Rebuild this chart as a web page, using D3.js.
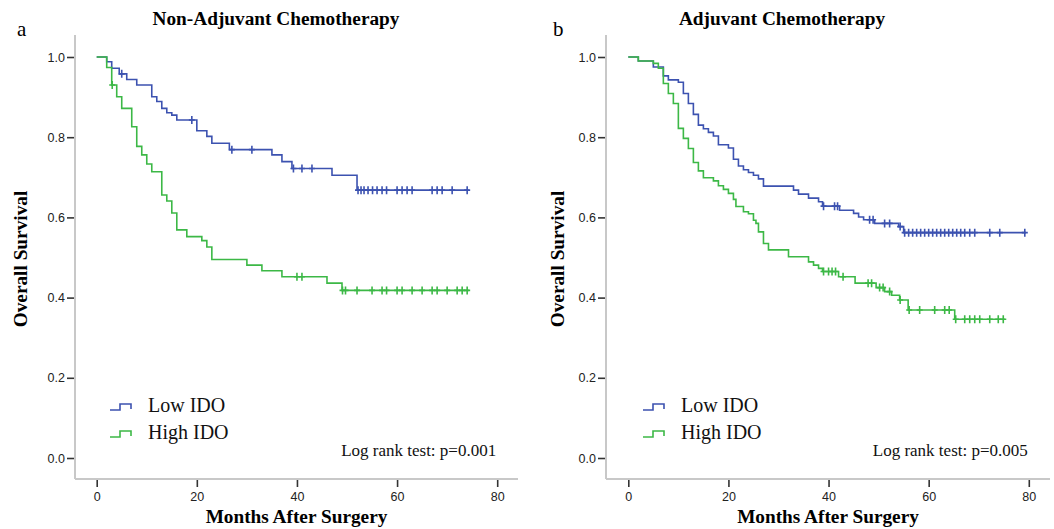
<!DOCTYPE html>
<html>
<head>
<meta charset="utf-8">
<script src="https://cdn.jsdelivr.net/npm/d3@7"></script>
<style>
  html, body { margin: 0; padding: 0; background: #fff; }
  svg { display: block; }
</style>
</head>
<body>
<svg id="chart" width="1054" height="529"></svg>
<script>
// ---------------- DATA ----------------
const panelTitles = ["Non-Adjuvant Chemotherapy", "Adjuvant Chemotherapy"];
const panelLetters = ["a", "b"];
const pValues = ["Log rank test: p=0.001", "Log rank test: p=0.005"];
const groupNames = ["Low IDO", "High IDO"];
const xTicks = [0, 20, 40, 60, 80];
const yTicks = [0.0, 0.2, 0.4, 0.6, 0.8, 1.0];
const xTitle = "Months After Surgery";
const yTitle = "Overall Survival";

// Panel a: Non-Adjuvant — Low IDO (steps: [month, survival])
const aLowSteps = [[0,1.0],[2,0.988],[3,0.972],[4.5,0.958],[6,0.944],[8,0.930],[11,0.901],[12,0.889],[13,0.872],[14,0.861],[15,0.855],[16,0.843],[20,0.816],[22,0.802],[23,0.785],[26.5,0.769],[35,0.756],[37,0.739],[39,0.722],[47,0.705],[52,0.668]];
const aLowCensor = [5,19,27,31,39.3,41,43,52.2,52.8,53.4,54.2,55.1,56,57,57.9,60,61,62,63,67,68,69,71,74];
const aLowEnd = 74.3;

// Panel a: Non-Adjuvant — High IDO
const aHighSteps = [[0,1.0],[2,0.974],[3,0.930],[4,0.901],[5,0.872],[7,0.826],[8,0.777],[9,0.756],[10,0.733],[11,0.714],[13,0.656],[14,0.641],[15,0.611],[16,0.569],[18,0.552],[21,0.542],[22,0.526],[23,0.495],[30,0.481],[33,0.467],[37,0.452],[46,0.436],[49,0.418]];
const aHighCensor = [3.1,40,41,49.1,49.7,52,55,57,57.9,60,61,63,65,67,68,70,72,73,74];
const aHighEnd = 74.3;

// Panel b: Adjuvant — Low IDO
const bLowSteps = [[0,1.0],[2,0.99],[5,0.975],[7,0.953],[8,0.943],[10,0.937],[11,0.909],[12,0.884],[13,0.857],[14,0.830],[15,0.821],[16,0.812],[17,0.803],[18,0.781],[20,0.773],[21,0.745],[22,0.728],[23,0.719],[24,0.712],[25,0.705],[26,0.696],[27,0.678],[33,0.668],[34,0.658],[36,0.648],[38,0.639],[38.8,0.628],[42.2,0.618],[45,0.610],[46,0.601],[47,0.594],[49.2,0.585],[54,0.577],[55,0.562]];
const bLowCensor = [39,41.2,41.8,48.2,48.9,51.2,52.2,54.3,55.2,56,56.8,57.6,58.4,59.2,60,60.8,61.6,62.4,63.2,64,64.8,65.6,66.4,67.2,68.2,69.2,72.2,74.2,79.2];
const bLowEnd = 79.4;

// Panel b: Adjuvant — High IDO
const bHighSteps = [[0,1.0],[2,0.99],[5,0.984],[6,0.972],[7,0.934],[8,0.909],[9,0.884],[10,0.822],[11,0.797],[12,0.772],[13,0.737],[14,0.716],[15,0.699],[17,0.691],[18,0.679],[19,0.670],[20,0.660],[21,0.645],[21.5,0.627],[23,0.614],[24,0.609],[25,0.593],[25.5,0.585],[26,0.564],[27,0.535],[28,0.519],[32,0.502],[36,0.489],[37,0.481],[38,0.473],[38.8,0.465],[42,0.452],[45.3,0.436],[49.5,0.425],[51.2,0.415],[52.6,0.406],[54.2,0.394],[55.9,0.369],[65.2,0.346]];
const bHighCensor = [39,40,40.7,41.4,42.9,47.9,48.6,50.2,50.9,52.2,54.3,56.1,58.2,61.2,63.2,64.1,65.4,67.2,68.2,69.2,70.2,72.2,73.9,74.9];
const bHighEnd = 75.2;

// ---------------- STYLE / LAYOUT ----------------
const colors = ["#3c52b0", "#3cb846"];
const serif = "'Liberation Serif','Times New Roman',serif";
const sans = "'Liberation Sans',Arial,sans-serif";

const panels = [
  { x0: 96.7, axisX: 75, right: 518, legendX: 110, yTitleX: 27, titleX: 276, letterX: 17,
    series: [
      { steps: aLowSteps, censor: aLowCensor, end: aLowEnd },
      { steps: aHighSteps, censor: aHighCensor, end: aHighEnd } ] },
  { x0: 628.3, axisX: 606, right: 1050, legendX: 643, yTitleX: 564, titleX: 782, letterX: 553,
    series: [
      { steps: bLowSteps, censor: bLowCensor, end: bLowEnd },
      { steps: bHighSteps, censor: bHighCensor, end: bHighEnd } ] }
];

const svg = d3.select("#chart");
const yTop = 57, yBot = 458, axisY = 479, axisTop = 35;

panels.forEach((p, pi) => {
  const x = d3.scaleLinear().domain([0, 80]).range([p.x0, p.x0 + 400.5]);
  const y = d3.scaleLinear().domain([0, 1]).range([yBot, yTop]);
  const g = svg.append("g");

  // axis frame lines (light gray)
  g.append("line").attr("x1", p.axisX).attr("x2", p.axisX)
    .attr("y1", axisTop).attr("y2", axisY)
    .attr("stroke", "#c8c8c8").attr("stroke-width", 2);
  g.append("line").attr("x1", p.axisX).attr("x2", p.right)
    .attr("y1", axisY).attr("y2", axisY)
    .attr("stroke", "#c8c8c8").attr("stroke-width", 2);

  // y axis ticks
  const yAxis = d3.axisLeft(y).tickValues(yTicks).tickFormat(d3.format(".1f"))
    .tickSize(7).tickPadding(2);
  const ya = g.append("g").attr("transform", `translate(${p.axisX - 1},0)`).call(yAxis);
  ya.select(".domain").remove();
  ya.selectAll("line").attr("stroke", "#333").attr("stroke-width", 1.6);
  ya.selectAll("text").attr("font-family", sans).attr("font-size", 12.5).attr("fill", "#222");

  // x axis ticks
  const xAxis = d3.axisBottom(x).tickValues(xTicks).tickFormat(d3.format("d"))
    .tickSize(7).tickPadding(5);
  const xa = g.append("g").attr("transform", `translate(0,${axisY + 1})`).call(xAxis);
  xa.select(".domain").remove();
  xa.selectAll("line").attr("stroke", "#333").attr("stroke-width", 1.6);
  xa.selectAll("text").attr("font-family", sans).attr("font-size", 12.5).attr("fill", "#222");

  // titles
  g.append("text").attr("x", p.titleX).attr("y", 25).attr("text-anchor", "middle")
    .attr("font-family", serif).attr("font-weight", "bold").attr("font-size", 19.3)
    .text(panelTitles[pi]);
  g.append("text").attr("x", p.letterX).attr("y", 36)
    .attr("font-family", serif).attr("font-size", 21).text(panelLetters[pi]);
  g.append("text").attr("x", (p.axisX + p.right) / 2).attr("y", 523).attr("text-anchor", "middle")
    .attr("font-family", serif).attr("font-weight", "bold").attr("font-size", 19.3)
    .text(xTitle);
  g.append("text").attr("transform", `translate(${p.yTitleX},${(axisTop + axisY) / 2 + 2}) rotate(-90)`)
    .attr("text-anchor", "middle")
    .attr("font-family", serif).attr("font-weight", "bold").attr("font-size", 19.3)
    .text(yTitle);

  // curves
  const line = d3.line().x(d => x(d[0])).y(d => y(d[1])).curve(d3.curveStepAfter);
  p.series.forEach((s, si) => {
    const last = s.steps[s.steps.length - 1];
    const pts = s.steps.concat([[s.end, last[1]]]);
    g.append("path").attr("d", line(pts)).attr("fill", "none")
      .attr("stroke", colors[si]).attr("stroke-width", 1.6);
    const survAt = t => {
      let v = 1;
      s.steps.forEach(d => { if (d[0] <= t) v = d[1]; });
      return v;
    };
    g.selectAll(null).data(s.censor).enter().append("path")
      .attr("d", t => {
        const cx = x(t), cy = y(survAt(t));
        return `M${cx},${cy - 4}V${cy + 4}M${cx - 3},${cy}H${cx + 3}`;
      })
      .attr("stroke", colors[si]).attr("stroke-width", 1.6).attr("fill", "none");
  });

  // legend
  groupNames.forEach((name, si) => {
    const ly = 410 + si * 27;
    const lx = p.legendX;
    g.append("path")
      .attr("d", `M${lx},${ly}H${lx + 10}V${ly - 6}H${lx + 21}V${ly - 1}`)
      .attr("fill", "none").attr("stroke", colors[si]).attr("stroke-width", 1.6);
    g.append("text").attr("x", lx + 38).attr("y", ly + 2)
      .attr("font-family", serif).attr("font-size", 20).attr("fill", "#111").text(name);
  });

  // p value
  g.append("text").attr("x", x(80) - 1).attr("y", 456).attr("text-anchor", "end")
    .attr("font-family", serif).attr("font-size", 17).attr("fill", "#111").text(pValues[pi]);
});
</script>
</body>
</html>
